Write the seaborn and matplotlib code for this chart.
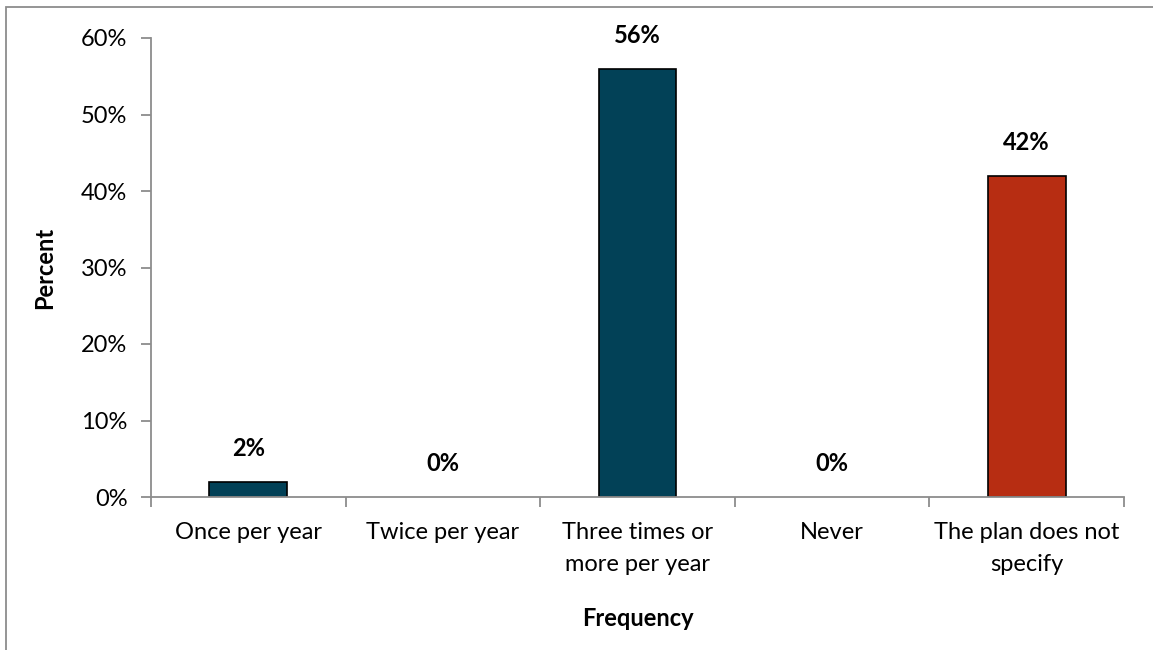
import matplotlib
matplotlib.use("Agg")
import matplotlib.pyplot as plt
from matplotlib.patches import Rectangle
from matplotlib.ticker import MultipleLocator, FixedLocator, PercentFormatter
import seaborn as sns
import pandas as pd

categories = ["Once per year", "Twice per year", "Three times or\nmore per year",
              "Never", "The plan does not\nspecify"]
percent = [2, 0, 56, 0, 42]
bar_colors = ["#024157", "#024157", "#024157", "#024157", "#B72D12"]

sns.set_theme(style="white")
plt.rcParams["font.family"] = ["Lato", "DejaVu Sans"]
plt.rcParams["text.color"] = "black"
plt.rcParams["axes.labelcolor"] = "black"

FS = 17

df = pd.DataFrame({"Frequency": categories, "Percent": percent})

fig = plt.figure(figsize=(11.53, 6.5), dpi=100)
ax = fig.add_axes([151 / 1153, 1 - 497 / 650, (1124 - 151) / 1153, (497 - 38) / 650])

sns.barplot(data=df, x="Frequency", y="Percent", hue="Frequency",
            palette=bar_colors, legend=False, width=0.4, saturation=1,
            edgecolor="black", linewidth=1.2, ax=ax)

# empty categories get no outline
for patch, v in zip(ax.patches, percent):
    if v == 0:
        patch.set_linewidth(0)

ax.set_ylim(0, 60)
ax.set_xlim(-0.5, len(categories) - 0.5)
ax.yaxis.set_major_locator(MultipleLocator(10))
ax.yaxis.set_major_formatter(PercentFormatter(decimals=0))

# value labels above each bar
for i, v in enumerate(percent):
    ax.annotate(f"{v}%", (i, v), xytext=(0, 24), textcoords="offset points",
                ha="center", va="center", fontsize=FS, fontweight="bold",
                color="black", annotation_clip=False)

# axis styling: gray spines, ticks between categories
for side in ["top", "right"]:
    ax.spines[side].set_visible(False)
for side in ["left", "bottom"]:
    ax.spines[side].set_color("#8C8C8C")
    ax.spines[side].set_linewidth(1.3)

ax.tick_params(axis="y", left=True, length=7, width=1.3, color="#8C8C8C",
               labelsize=FS, pad=10, labelcolor="black")
ax.tick_params(axis="x", which="major", length=0, labelsize=FS, pad=18,
               labelcolor="black")
for lbl in ax.get_xticklabels():
    lbl.set_linespacing(1.65)
ax.xaxis.set_minor_locator(FixedLocator([x - 0.5 for x in range(len(categories) + 1)]))
ax.tick_params(axis="x", which="minor", bottom=True, length=7, width=1.3,
               color="#8C8C8C")

ax.set_ylabel("Percent", fontsize=FS, fontweight="bold")
ax.set_xlabel("Frequency", fontsize=FS, fontweight="bold")
ax.yaxis.set_label_coords(-0.098, 0.5)
ax.xaxis.set_label_coords(0.5, -0.24)

# outer chart frame, partly running off the canvas
frame = Rectangle((6 / 1153, -0.2), 1.3, 1.2 - 7 / 650, transform=fig.transFigure,
                  fill=False, edgecolor="#8C8C8C", linewidth=1.3, clip_on=False)
fig.patches.append(frame)

fig.savefig("out.png", dpi=100, facecolor="white")
